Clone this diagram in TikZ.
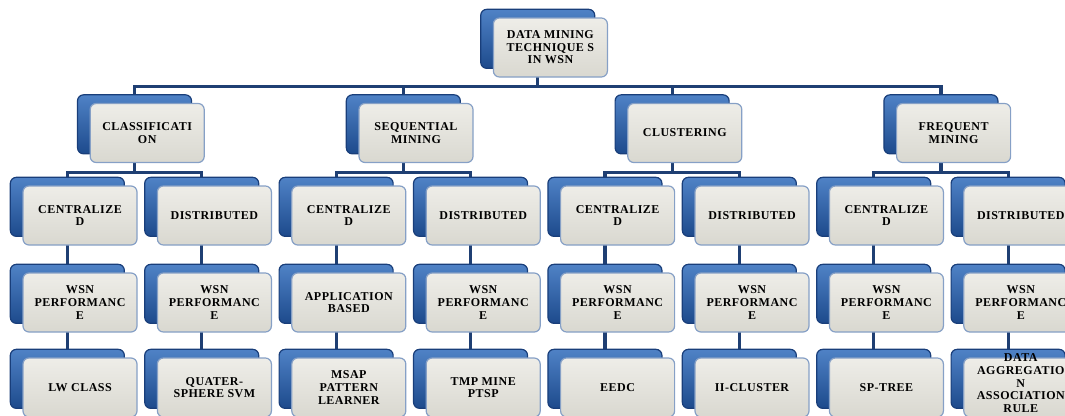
\documentclass[tikz,border=0pt]{standalone}
\usepackage{fontspec}
\usepackage{tikz}
\usetikzlibrary{shadows,backgrounds}
\newfontfamily\boxfont[LetterSpace=4]{Liberation Serif}
\definecolor{linkblue}{HTML}{1F3F73}
\definecolor{backtop}{HTML}{4F82C6}
\definecolor{backbottom}{HTML}{1D4A8C}
\definecolor{backedge}{HTML}{193E7A}
\definecolor{fronttop}{HTML}{EEEDE8}
\definecolor{frontbottom}{HTML}{D9D8D0}
\definecolor{frontedge}{HTML}{86A0C6}
\tikzset{box/.style={rectangle, rounded corners=4.5pt, minimum width=85.5pt,
    minimum height=44.25pt, inner sep=1pt, align=center,
    top color=fronttop, bottom color=frontbottom, draw=frontedge, line width=0.9pt,
    font=\boxfont\bfseries\fontsize{9}{9.4}\selectfont,
    general shadow={shadow xshift=-9.5pt, shadow yshift=6.5pt, top color=backtop,
    bottom color=backbottom, draw=backedge, line width=0.9pt}}}
\tikzset{link/.style={draw=linkblue, line width=2.4pt}}

\begin{document}
\begin{tikzpicture}[x=0.75pt, y=-0.75pt]
    \useasboundingbox (0, 0) rectangle (1065, 415);
    \clip (0, 0) rectangle (1065, 415);

    %root
    \node[box] (dm) at (550.4, 47.5) {DATA MINING\\TECHNIQUE S\\IN WSN};

    %techniques
    \node[box] (cls) at (147.2, 133) {CLASSIFICATI\\ON};
    \node[box] (seq) at (416, 133) {SEQUENTIAL\\MINING};
    \node[box] (clu) at (684.8, 133) {CLUSTERING};
    \node[box] (frq) at (953.6, 133) {FREQUENT\\MINING};

    %centralized / distributed
    \node[box] (cls1) at (80, 215.5) {CENTRALIZE\\D};
    \node[box] (cls2) at (214.4, 215.5) {DISTRIBUTED};
    \node[box] (seq1) at (348.8, 215.5) {CENTRALIZE\\D};
    \node[box] (seq2) at (483.2, 215.5) {DISTRIBUTED};
    \node[box] (clu1) at (617.6, 215.5) {CENTRALIZE\\D};
    \node[box] (clu2) at (752, 215.5) {DISTRIBUTED};
    \node[box] (frq1) at (886.4, 215.5) {CENTRALIZE\\D};
    \node[box] (frq2) at (1020.8, 215.5) {DISTRIBUTED};

    %criteria
    \node[box] (cls1a) at (80, 302.5) {WSN\\PERFORMANC\\E};
    \node[box] (cls2a) at (214.4, 302.5) {WSN\\PERFORMANC\\E};
    \node[box] (seq1a) at (348.8, 302.5) {APPLICATION\\BASED};
    \node[box] (seq2a) at (483.2, 302.5) {WSN\\PERFORMANC\\E};
    \node[box] (clu1a) at (617.6, 302.5) {WSN\\PERFORMANC\\E};
    \node[box] (clu2a) at (752, 302.5) {WSN\\PERFORMANC\\E};
    \node[box] (frq1a) at (886.4, 302.5) {WSN\\PERFORMANC\\E};
    \node[box] (frq2a) at (1020.8, 302.5) {WSN\\PERFORMANC\\E};

    %algorithms
    \node[box] (cls1b) at (80, 387.5) {LW CLASS};
    \node[box] (cls2b) at (214.4, 387.5) {QUATER-\\SPHERE SVM};
    \node[box] (seq1b) at (348.8, 387.5) {MSAP\\PATTERN\\LEARNER};
    \node[box] (seq2b) at (483.2, 387.5) {TMP MINE\\PTSP};
    \node[box] (clu1b) at (617.6, 387.5) {EEDC};
    \node[box] (clu2b) at (752, 387.5) {II-CLUSTER};
    \node[box] (frq1b) at (886.4, 387.5) {SP-TREE};
    \node[box] (frq2b) at (1020.8, 387.5) {\raisebox{0pt}[0pt][0pt]{%
        \begin{tabular}{@{}c@{}}DATA\\AGGREGATIO\\N\\ASSOCIATION\\RULE\end{tabular}}};

    %connectors
    \begin{pgfonlayer}{background}
        \draw[link] ([xshift=-9.5pt]dm.center) |- ([xshift=-9.5pt, yshift=12.4pt]cls.north)
            -- ([xshift=-9.5pt]cls.center);
        \draw[link] ([xshift=-9.5pt]dm.center) |- ([xshift=-9.5pt, yshift=12.4pt]seq.north)
            -- ([xshift=-9.5pt]seq.center);
        \draw[link] ([xshift=-9.5pt]dm.center) |- ([xshift=-9.5pt, yshift=12.4pt]clu.north)
            -- ([xshift=-9.5pt]clu.center);
        \draw[link] ([xshift=-9.5pt]dm.center) |- ([xshift=-9.5pt, yshift=12.4pt]frq.north)
            -- ([xshift=-9.5pt]frq.center);

        \draw[link] ([xshift=-9.5pt]cls.center) |- ([xshift=-9.5pt, yshift=9.75pt]cls1.north)
            -- ([xshift=-9.5pt]cls1b.center);
        \draw[link] ([xshift=-9.5pt]cls.center) |- ([xshift=-9.5pt, yshift=9.75pt]cls2.north)
            -- ([xshift=-9.5pt]cls2b.center);
        \draw[link] ([xshift=-9.5pt]seq.center) |- ([xshift=-9.5pt, yshift=9.75pt]seq1.north)
            -- ([xshift=-9.5pt]seq1b.center);
        \draw[link] ([xshift=-9.5pt]seq.center) |- ([xshift=-9.5pt, yshift=9.75pt]seq2.north)
            -- ([xshift=-9.5pt]seq2b.center);
        \draw[link] ([xshift=-9.5pt]clu.center) |- ([xshift=-9.5pt, yshift=9.75pt]clu1.north)
            -- ([xshift=-9.5pt]clu1b.center);
        \draw[link] ([xshift=-9.5pt]clu.center) |- ([xshift=-9.5pt, yshift=9.75pt]clu2.north)
            -- ([xshift=-9.5pt]clu2b.center);
        \draw[link] ([xshift=-9.5pt]frq.center) |- ([xshift=-9.5pt, yshift=9.75pt]frq1.north)
            -- ([xshift=-9.5pt]frq1b.center);
        \draw[link] ([xshift=-9.5pt]frq.center) |- ([xshift=-9.5pt, yshift=9.75pt]frq2.north)
            -- ([xshift=-9.5pt]frq2b.center);
    \end{pgfonlayer}
\end{tikzpicture}
\end{document}
